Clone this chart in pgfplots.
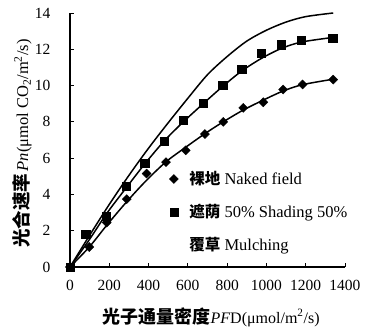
\documentclass[border=0pt]{standalone}
\usepackage{pgfplots}
\pgfplotsset{compat=1.18}
\usepackage{fontspec}
\setmainfont{Liberation Serif}
\newfontfamily\cjk{Noto Sans CJK SC}
\begin{document}
\begin{tikzpicture}
\useasboundingbox (-70pt,-67pt) rectangle (298pt,267pt);
\begin{axis}[
  scale only axis, width=275pt, height=254pt,
  xmin=0, xmax=1400, ymin=0, ymax=14,
  axis x line*=bottom, axis y line*=left,
  axis line style={line width=1.1pt,-},
  tick align=inside, major tick length=4pt,
  tick style={line width=0.9pt, black},
  xtick={0,200,...,1400}, ytick={0,2,...,14},
  scaled ticks=false,
  /pgf/number format/1000 sep={},
  /pgf/number format/assume math mode=true,
  ticklabel style={font=\fontsize{15.5}{17}\selectfont},
  xticklabel style={yshift=-10pt},
  yticklabel style={xshift=-16pt},
  xlabel={{\cjk\bfseries\fontsize{18}{20}\selectfont 光子通量密度}\textit{PF}D(μmol/m\textsuperscript{2}/s)},
  ylabel={{\cjk\bfseries\fontsize{18.5}{20}\selectfont 光合速率}\,\textit{Pn}(μmol CO\textsubscript{2}/m\textsuperscript{2}/s)},
  xlabel style={at={(axis description cs:0.513,-0.197)}, anchor=center, font=\fontsize{16}{18}\selectfont},
  ylabel style={at={(axis description cs:-0.1745,0.486)}, anchor=center, font=\fontsize{16.5}{18}\selectfont},
  legend style={draw=none, fill=none, at={(axis description cs:0.335,0.392)}, anchor=north west,
    font=\fontsize{16.5}{18}\selectfont, row sep=14pt,
    /tikz/every odd column/.append style={column sep=9pt}},
  legend cell align=left,
  clip=false,
]
% fitted curves
\addplot[black, line width=1.5pt, smooth, forget plot] coordinates {
(0,0) (100,1.75) (200,3.45) (300,5.05) (400,6.55) (500,7.95) (600,9.3) (700,10.6)
(800,11.6) (900,12.45) (1000,13.05) (1100,13.5) (1200,13.8) (1340,14.0)};
\addplot[black, line width=1.5pt, smooth, forget plot] coordinates {
(0,0) (98,1.5) (187,2.95) (285,4.35) (382,5.7) (480,6.95) (577,8.0) (678,9.0)
(777,9.95) (874,10.8) (975,11.5) (1077,12.05) (1179,12.4) (1337,12.65)};
\addplot[black, line width=1.5pt, smooth, forget plot] coordinates {
(0,0) (98,1.1) (187,2.3) (289,3.6) (387,4.75) (489,5.8) (589,6.6) (687,7.35)
(780,8.0) (882,8.65) (984,9.2) (1085,9.7) (1184,10.05) (1340,10.35)};
% observed points
\addplot[only marks, mark=square*, mark size=3.2pt, mark options={rotate=45, fill=black, draw=black}] coordinates {
(0,0) (98,1.1) (187,2.45) (289,3.74) (390,5.15) (489,5.78) (589,6.43) (687,7.33)
(780,8.0) (882,8.77) (984,9.08) (1085,9.78) (1184,10.06) (1340,10.33)};
\addlegendentry{{\cjk\bfseries\fontsize{15.5}{16}\selectfont 裸地} Naked field}
\addplot[only marks, mark=square*, mark size=4.1pt, mark options={fill=black, draw=black}] coordinates {
(0,0) (80,1.8) (185,2.8) (285,4.45) (380,5.73) (480,6.92) (577,8.1) (678,9.04)
(777,10.0) (874,10.9) (975,11.8) (1077,12.25) (1179,12.5) (1337,12.6)};
\addlegendentry{{\cjk\bfseries\fontsize{15.5}{16}\selectfont 遮荫} 50\% Shading 50\%}
\addlegendimage{legend image code/.code={}}
\addlegendentry{{\cjk\bfseries\fontsize{15.5}{16}\selectfont 覆草} Mulching}
\end{axis}
\end{tikzpicture}
\end{document}
